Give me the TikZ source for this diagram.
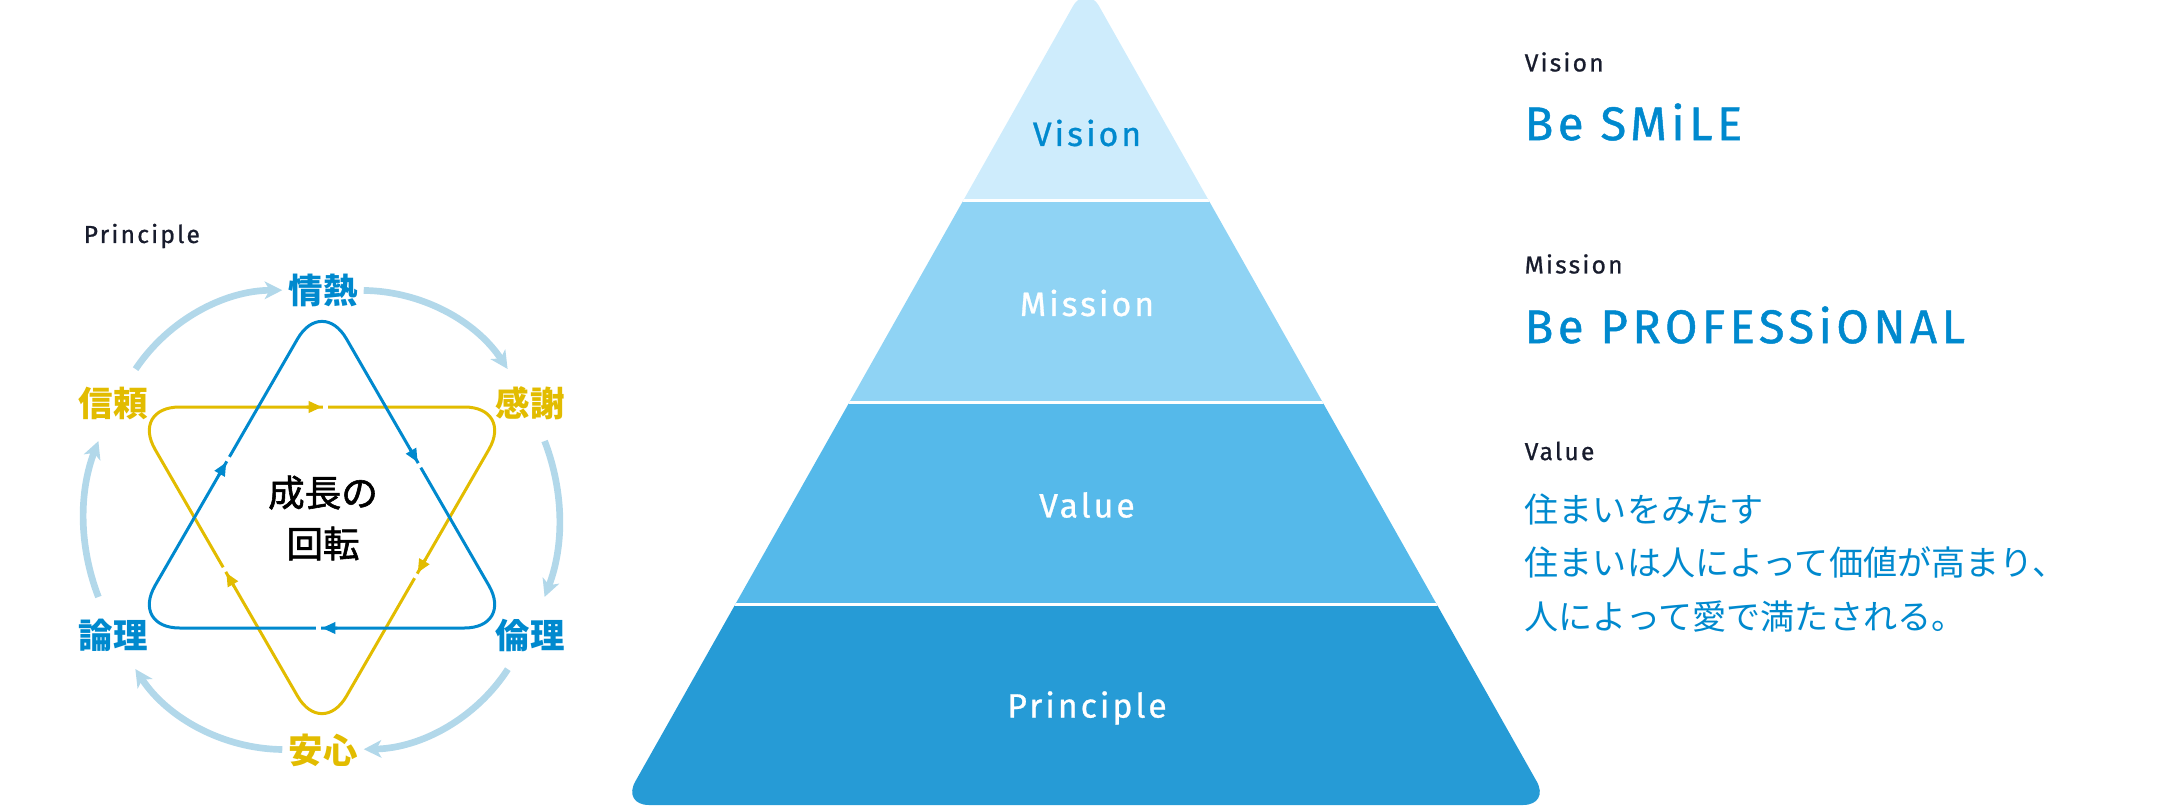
\documentclass[tikz,border=0pt]{standalone}
\usepackage{fontspec}
\setmainfont{Fira Sans}
\newfontfamily\jpfont{Noto Sans CJK JP}
\newfontfamily\jpmfont[FakeBold=1.6]{Noto Sans CJK JP}
\newfontfamily\labfont[LetterSpace=9, FakeBold=0.8]{Fira Sans}
\newfontfamily\bigfont[LetterSpace=9.5, FakeBold=1.0]{Fira Sans}
\usetikzlibrary{arrows.meta,calc}

\definecolor{cblue}{HTML}{0089CE}
\definecolor{cyell}{HTML}{E2BC00}
\definecolor{carc}{HTML}{B2D8EA}
\definecolor{cdark}{HTML}{181C2D}
\definecolor{pvis}{HTML}{CEECFC}
\definecolor{pmis}{HTML}{8FD3F4}
\definecolor{pval}{HTML}{55B9EA}
\definecolor{ppri}{HTML}{269BD6}

\tikzset{
  hexlab/.style={circle, minimum size=0.8cm, inner sep=0pt, font=\jpfont\bfseries\fontsize{9.8}{11}\selectfont},
  cyc/.style={draw=carc, line width=1.9pt, -{Stealth[length=5pt,width=5pt,inset=1.4pt]}, bend left=#1, looseness=0.9},
  triline/.style={draw=#1, line width=0.85pt, rounded corners=0.49cm},
  tritip/.style={draw=#1, line width=0.85pt, -{Triangle[length=3.8pt,width=3.2pt]}},
  gap/.style={draw=white, line width=2.2pt},
  pyrlab/.style={font=\labfont\fontsize{9.6}{11}\selectfont},
  smlab/.style={anchor=west, inner sep=0pt, text=cdark, font=\labfont\fontsize{7}{9}\selectfont},
  biglab/.style={anchor=west, inner sep=0pt, text=cblue, font=\bigfont\fontsize{13.4}{15}\selectfont},
}

\begin{document}
\begin{tikzpicture}[x=0.01cm, y=-0.01cm]
\useasboundingbox (0,0) rectangle (2176,806);

\node[smlab] (pttl) at (83,236) {Principle};

\node[hexlab, text=cblue] (jn) at (323,290) {情熱};
\node[hexlab, text=cyell] (ks) at (530,403) {感謝};
\node[hexlab, text=cblue] (rr) at (530,635) {倫理};
\node[hexlab, text=cyell] (as) at (323,750) {安心};
\node[hexlab, text=cblue] (ro) at (113,635) {論理};
\node[hexlab, text=cyell] (sr) at (113,403) {信頼};

\draw[cyc=28] (sr) to (jn);
\draw[cyc=28] (jn) to (ks);
\draw[cyc=21] (ks) to (rr);
\draw[cyc=28] (rr) to (as);
\draw[cyc=28] (as) to (ro);
\draw[cyc=21] (ro) to (sr);

\coordinate (b1) at (322,296.5);
\coordinate (b2) at (513.4,628);
\coordinate (b3) at (130.6,628);
\coordinate (y1) at (130.6,407);
\coordinate (y2) at (513.4,407);
\coordinate (y3) at (322,738.5);

\draw[triline=cyell] (y1) -- (y2) -- (y3) -- cycle;
\draw[triline=cblue] (b3) -- (b1) -- (b2) -- cycle;
\foreach \p/\q/\c in {b3/b1/cblue, b1/b2/cblue, b2/b3/cblue, y1/y2/cyell, y2/y3/cyell, y3/y1/cyell} {
  \draw[gap] ($(\p)!0.503!(\q)$) -- ($(\p)!0.516!(\q)$);
  \draw[tritip=\c] ($(\p)!0.46!(\q)$) -- ($(\p)!0.5!(\q)$);
}

\node[align=center, text=black, font=\jpmfont\fontsize{10.4}{14.5}\selectfont] (grow) at (323,518) {成長の\\回転};

\begin{scope}
\clip[rounded corners=0.27cm] (622,805) -- (1550,805) -- (1086,-17) -- cycle;
\fill[pvis] (600,-30) rectangle (1600,200);
\fill[pmis] (600,200) rectangle (1600,402);
\fill[pval] (600,402) rectangle (1600,604);
\fill[ppri] (600,604) rectangle (1600,820);
\foreach \yy in {200,402,604}
  \draw[white, line width=0.03cm] (600,\yy) -- (1600,\yy);
\end{scope}

\node[pyrlab, text=cblue] (lvis) at (1087,133) {Vision};
\node[pyrlab, text=white] (lmis) at (1087,303) {Mission};
\node[pyrlab, text=white] (lval) at (1087,505) {Value};
\node[pyrlab, text=white] (lpri) at (1087,708) {Principle};

\node[smlab] (tvis) at (1524,62) {Vision};
\node[biglab] (bsm) at (1524,122) {Be SMiLE};
\node[smlab] (tmis) at (1524,264) {Mission};
\node[biglab] (bpr) at (1524,325) {Be PROFESSiONAL};
\node[smlab] (tval) at (1524,451) {Value};
\node[anchor=west, inner sep=0pt, align=left, text=cblue, font=\jpfont\fontsize{9.7}{15.1}\selectfont] (jval) at (1524,563) {住まいをみたす\\住まいは人によって価値が高まり、\\人によって愛で満たされる。};
\end{tikzpicture}
\end{document}
